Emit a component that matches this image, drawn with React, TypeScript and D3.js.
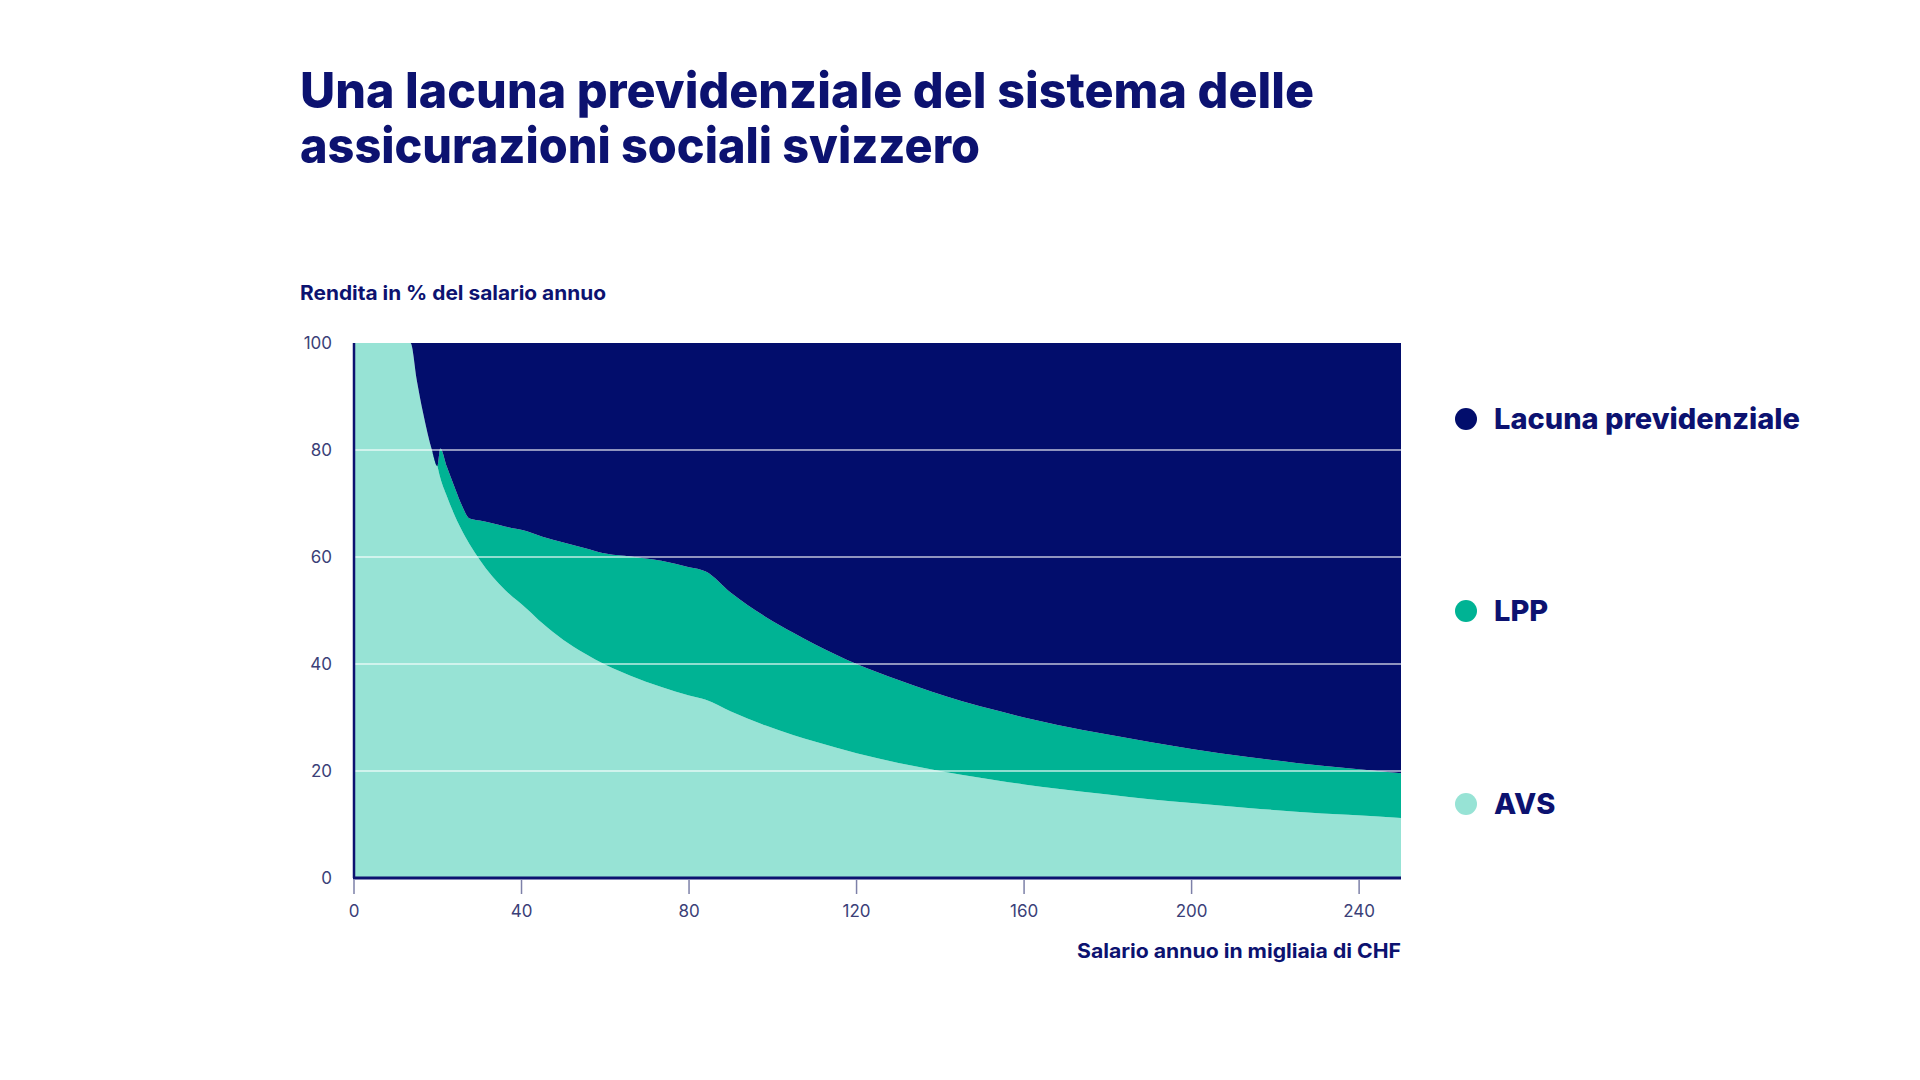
import React from "react";
import * as d3 from "d3";

const salary = [0, 13.5, 15, 16.5, 18.6, 19.9, 20.6, 22.2, 23.8, 25.4, 27.6, 30, 33, 36, 41.3, 45, 50, 55, 60.4, 66, 73.4, 80, 84, 90, 98.3, 105, 110, 120, 130, 138, 145, 154, 160, 168, 180, 190, 200, 213.5, 225, 237.4, 250];
const avs = [100, 100, 93.0, 86.9, 80.0, 77.0, 74.8, 71.3, 68.2, 65.5, 62.4, 59.5, 56.4, 53.9, 50.3, 47.6, 44.5, 42.0, 39.7, 37.8, 35.7, 34.1, 33.3, 31.1, 28.5, 26.7, 25.5, 23.3, 21.5, 20.3, 19.3, 18.2, 17.5, 16.7, 15.6, 14.7, 14.0, 13.1, 12.4, 11.8, 11.2];
const lpp = [0, 0, 0, 0, 0, 0, 5.5, 5.5, 5.3, 4.8, 4.8, 7.3, 9.9, 11.8, 14.5, 16.2, 18.2, 19.7, 20.9, 22.3, 23.6, 24.0, 24.0, 22.2, 20.3, 19.1, 18.2, 16.7, 15.5, 14.5, 13.8, 13.0, 12.5, 11.9, 11.2, 10.7, 10.1, 9.5, 9.1, 8.7, 8.4];

const xTicks = [0, 40, 80, 120, 160, 200, 240];
const yTicks = [0, 20, 40, 60, 80, 100];
const legendLabels = ["Lacuna previdenziale", "LPP", "AVS"];

const C_GAP = "#020d6c";
const C_LPP = "#00b394";
const C_AVS = "#97e3d5";
const NAVY = "#0c1270";
const FONT = "Inter, 'Noto Sans', sans-serif";

export default function App() {
  const left = 354, right = 1401, top = 343, bottom = 878;
  const x = d3.scaleLinear().domain([0, 250]).range([left, right]);
  const y = d3.scaleLinear().domain([0, 100]).range([bottom, top]);

  const rows = salary.map((s, i) => ({
    s,
    avs: avs[i],
    lpp: lpp[i],
    gap: Math.max(0, 100 - avs[i] - lpp[i]),
  }));
  const stack = d3.stack<any>().keys(["avs", "lpp", "gap"]);
  const series = stack(rows);
  const area = d3
    .area<any>()
    .x((d) => x(d.data.s))
    .y0((d) => y(d[0]))
    .y1((d) => y(d[1]))
    .curve(d3.curveMonotoneX);
  const colors = [C_AVS, C_LPP, C_GAP];

  const legendColors = [C_GAP, C_LPP, C_AVS];
  const legendY = [419, 611, 804];

  return (
    <svg
      width={1920}
      height={1080}
      style={{ position: "absolute", left: 0, top: 0, background: "#fff" }}
    >
      <text x={300} y={108} fontFamily={FONT} fontWeight={800} fontSize={50} fill={NAVY} textLength={1014} lengthAdjust="spacingAndGlyphs">
        Una lacuna previdenziale del sistema delle
      </text>
      <text x={300} y={163} fontFamily={FONT} fontWeight={800} fontSize={50} fill={NAVY} textLength={680} lengthAdjust="spacingAndGlyphs">
        assicurazioni sociali svizzero
      </text>

      <text x={300} y={300} fontFamily={FONT} fontWeight={700} fontSize={20} fill={NAVY} textLength={306} lengthAdjust="spacingAndGlyphs">
        Rendita in % del salario annuo
      </text>

      {series.map((s, i) => (
        <path key={i} d={area(s as any) || ""} fill={colors[i]} />
      ))}

      {yTicks.filter((t) => t > 0 && t < 100).map((t) => (
        <line key={t} x1={left} x2={right} y1={y(t)} y2={y(t)} stroke="#ffffff" strokeOpacity={0.75} strokeWidth={1.5} />
      ))}

      <line x1={left} x2={left} y1={top} y2={bottom} stroke={NAVY} strokeWidth={2.5} />
      <line x1={left - 1} x2={right} y1={bottom} y2={bottom} stroke={NAVY} strokeWidth={3} />

      {yTicks.map((t) => (
        <text key={t} x={332} y={y(t)} dy="0.35em" textAnchor="end" fontFamily={FONT} fontSize={17} fill="#3b3f78">
          {t}
        </text>
      ))}

      {xTicks.map((t) => (
        <g key={t}>
          <line x1={x(t)} x2={x(t)} y1={bottom + 2} y2={bottom + 16} stroke="#7d80a8" strokeWidth={1.5} />
          <text x={x(t)} y={917} textAnchor="middle" fontFamily={FONT} fontSize={17} fill="#3b3f78">
            {t}
          </text>
        </g>
      ))}

      <text x={right} y={958} textAnchor="end" fontFamily={FONT} fontWeight={700} fontSize={20} fill={NAVY} textLength={324} lengthAdjust="spacingAndGlyphs">
        Salario annuo in migliaia di CHF
      </text>

      {legendLabels.map((l, i) => (
        <g key={l}>
          <circle cx={1466} cy={legendY[i]} r={11} fill={legendColors[i]} />
          <text x={1494} y={legendY[i]} dy="0.35em" fontFamily={FONT} fontWeight={800} fontSize={29} fill={NAVY}>
            {l}
          </text>
        </g>
      ))}
    </svg>
  );
}
